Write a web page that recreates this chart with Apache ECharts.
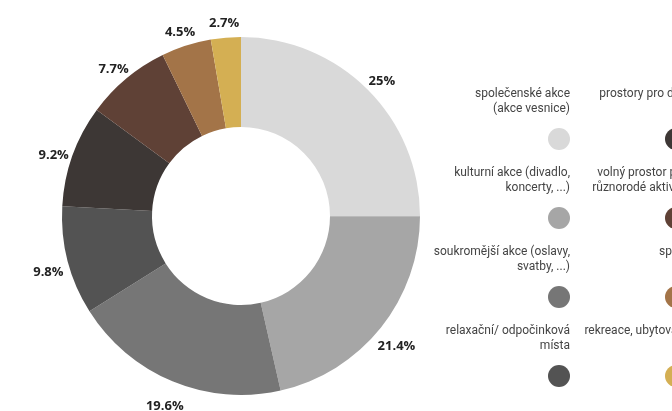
<!DOCTYPE html>
<html lang="cs">
<head>
    <meta charset="UTF-8"/>
    <title>Donut</title>
    <script src="https://cdn.jsdelivr.net/npm/echarts@6/dist/echarts.min.js"></script>
    <style>
        html, body { margin: 0; padding: 0; background: #fff; }
    </style>
</head>
<body>
<div id="main" style="width: 672px;height:411px;"></div>

<script type="text/javascript">
    // kategorie (v poradi dilku od 12 hodin po smeru hodin)
    var categories = [
        'společenské akce\n(akce vesnice)',
        'kulturní akce (divadlo,\nkoncerty, ...)',
        'soukromější akce (oslavy,\nsvatby, ...)',
        'relaxační/ odpočinková\nmísta',
        'prostory pro děti',
        'volný prostor pro\nrůznorodé aktivity',
        'sport',
        'rekreace, ubytování'
    ];
    var values = [25, 21.4, 19.6, 9.8, 9.2, 7.7, 4.5, 2.7];
    var colors = ['#d9d9d9', '#a6a6a6', '#767676', '#535353', '#3d3735', '#5f4136', '#a37448', '#d4af53'];

    var myChart = echarts.init(document.getElementById('main'));

    var pieData = [];
    var labelData = [];
    for (var i = 0; i < categories.length; i++) {
        pieData.push({value: values[i], name: categories[i], itemStyle: {color: colors[i]}});
        labelData.push({value: values[i], name: categories[i]});
    }

    // legenda: text nad barevnym koleckem
    var rich = {
        t: {fontFamily: 'Roboto', fontSize: 12, lineHeight: 15, color: '#444'}
    };
    for (var j = 0; j < colors.length; j++) {
        rich['c' + j] = {width: 22, height: 22, borderRadius: 11, backgroundColor: colors[j], lineHeight: 45};
    }
    function legendFormatter(name) {
        var idx = categories.indexOf(name);
        var lines = name.split('\n');
        if (lines.length < 2) lines.push(' ');
        return lines.map(function (l) { return '{t|' + l + '}'; }).join('\n') + '\n{c' + idx + '|}';
    }
    function makeLegend(names, right) {
        return {
            orient: 'vertical',
            align: 'right',
            right: right,
            top: 83,
            itemGap: 17,
            itemWidth: 0,
            itemHeight: 0,
            selectedMode: false,
            data: names,
            formatter: legendFormatter,
            textStyle: {color: '#444', rich: rich}
        };
    }

    var option = {
        backgroundColor: '#fff',
        animation: false,
        legend: [
            makeLegend(categories.slice(0, 4), 92),
            makeLegend(categories.slice(4), -25)
        ],
        series: [
            {
                type: 'pie',
                center: [241, 216],
                radius: [89, 179],
                startAngle: 90,
                clockwise: true,
                avoidLabelOverlap: false,
                label: {show: false},
                labelLine: {show: false},
                data: pieData
            },
            {
                // pruhledny prstenec jen pro popisky procent
                type: 'pie',
                silent: true,
                center: [241, 216],
                radius: [185, 207],
                startAngle: 90,
                clockwise: true,
                avoidLabelOverlap: false,
                itemStyle: {color: 'rgba(0,0,0,0)'},
                label: {
                    show: true,
                    position: 'inside',
                    formatter: '{c}%',
                    offset: [0, 6],
                    fontFamily: 'Open Sans',
                    fontWeight: 'bold',
                    fontSize: 13,
                    color: '#222'
                },
                labelLine: {show: false},
                data: labelData
            }
        ]
    };
    myChart.setOption(option);
</script>
</body>
</html>
